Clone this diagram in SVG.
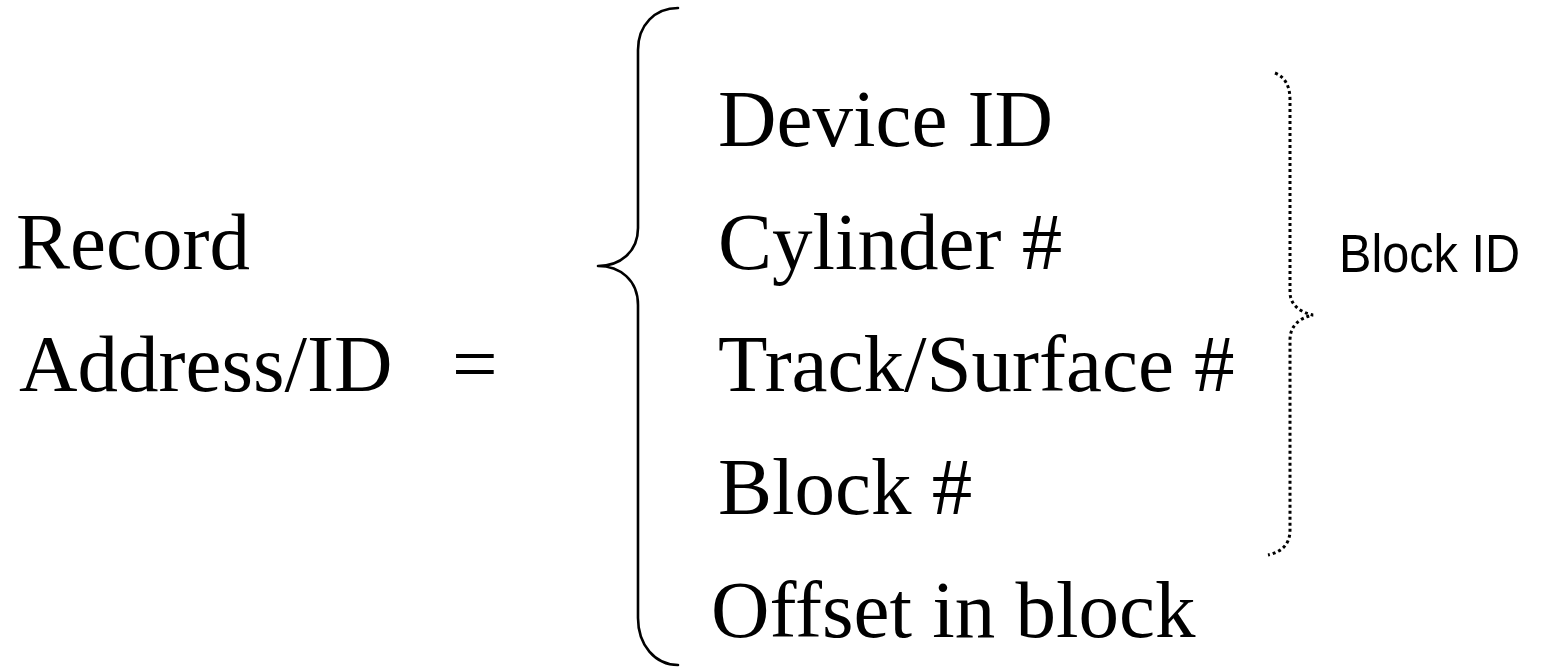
<svg xmlns="http://www.w3.org/2000/svg" width="1542" height="667" viewBox="0 0 1542 667">
  <style>
    .serif { font-family: "Liberation Serif", "Times New Roman", serif; font-size: 81px; fill: #000; }
    .sans { font-family: "Liberation Sans", Tahoma, sans-serif; font-size: 53px; fill: #000; }
    .brace { fill: none; stroke: #000; stroke-width: 2.6; stroke-linecap: round; stroke-linejoin: round; }
    .dotted { fill: none; stroke: #000; stroke-width: 3; stroke-dasharray: 3 3; }
  </style>
  <rect width="1542" height="667" fill="#fff"/>

  <!-- left-hand side -->
  <g id="record-address">
    <text class="serif" x="16" y="269">Record</text>
    <text class="serif" x="19" y="391">Address/ID</text>
  </g>
  <g id="equals">
    <text class="serif" x="452" y="391">=</text>
  </g>

  <!-- fields of the record address -->
  <g id="device-id"><text class="serif" x="718" y="146">Device ID</text></g>
  <g id="cylinder"><text class="serif" x="718" y="269">Cylinder #</text></g>
  <g id="track-surface"><text class="serif" x="718" y="391">Track/Surface #</text></g>
  <g id="block-num"><text class="serif" x="718" y="514">Block #</text></g>
  <g id="offset"><text class="serif" x="711" y="637">Offset in block</text></g>

  <g id="block-id-label">
    <text class="sans" x="1339" y="272" textLength="181" lengthAdjust="spacingAndGlyphs">Block ID</text>
  </g>

  <!-- braces -->
  <g id="connectors">
    <path class="brace" d="M678,8 C655,8 638,25 638,50 L638,228 C638,252 620,266 598,266 C620,266 638,280 638,305 L638,618 C638,645 655,665 678,665"/>
    <path class="dotted" d="M1275,73 C1285,77 1290,86 1290,100 L1290,292 C1290,304 1299,312 1313,315 C1299,318 1290,326 1290,340 L1290,530 C1290,545 1281,552 1268,555"/>
  </g>
</svg>
